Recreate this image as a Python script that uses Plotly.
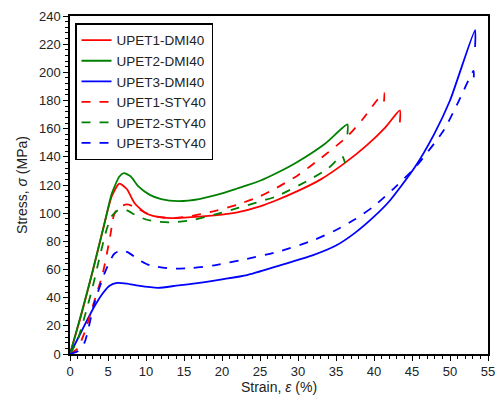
import plotly.graph_objects as go

# UPET1-DMI40 (red solid)
u1d_x = [0, 1.5, 3.0, 4.5, 5.5, 6.5, 7.5, 8.5, 10, 12, 14, 17, 20, 22, 25, 27, 30, 33, 36, 39, 41.5, 43.4, 43.4]
u1d_y = [0, 28, 59, 92, 112, 121, 117, 107, 100, 97, 96.5, 97.5, 99, 100.5, 104.8, 108.8, 115.8, 124, 135, 148, 161, 173, 164.5]
# UPET2-DMI40 (green solid)
u2d_x = [0, 1.5, 3.0, 4.5, 5.5, 6.5, 7.1, 8, 9, 10.5, 12, 14.2, 17, 20, 22, 25, 27.2, 29.8, 33.6, 36.5, 36.5]
u2d_y = [0, 29, 59.4, 92, 114, 126, 128.4, 126, 119, 113, 110, 108.6, 110, 114, 117.5, 123, 128.5, 136, 149.5, 163, 156]
# UPET3-DMI40 (blue solid)
u3d_x = [0, 1.5, 3.2, 4.3, 5.2, 6.2, 7.5, 9, 11.6, 14, 17, 20, 23.3, 27.2, 31.9, 35, 37.5, 40, 42.1, 45.3, 47.9, 50, 53.3, 53.3]
u3d_y = [0, 16, 33.7, 43, 48.5, 50.5, 50, 48.5, 47, 48.5, 50.5, 53, 56, 62.2, 70, 77, 86, 97.5, 109, 132, 156, 180, 230, 218]
# UPET1-STY40 (red dashed)
u1s_x = [0, 1.0, 1.9, 3.0, 4.3, 5.3, 5.8, 6.5, 7.5, 8.5, 10, 11.5, 13.4, 16, 19, 22, 25, 27.2, 30, 33, 36.5, 38.4, 41.3, 41.3]
u1s_y = [0, 4, 15, 34, 57, 84, 99, 104.5, 106.2, 104.5, 100, 97.5, 96.4, 98, 101.5, 106, 112, 118, 127, 139, 154.5, 166, 185.5, 178]
# UPET2-STY40 (green dashed)
u2s_x = [0, 1.0, 2.0, 3.0, 3.9, 4.8, 5.5, 6.5, 7.5, 8.5, 10, 11.6, 13.5, 16, 19, 22, 24.5, 27.2, 31.5, 34, 35.8, 36.2]
u2s_y = [0, 10, 28, 48, 68.8, 88, 98, 102.7, 102, 99, 95.5, 94, 93.5, 95, 99, 103.5, 107.5, 112, 123.7, 132, 140.5, 135.5]
# UPET3-STY40 (blue dashed)
u3s_x = [0, 1.0, 1.9, 3.2, 4.7, 5.8, 6.7, 7.7, 9, 10.5, 13.4, 16, 19, 23.3, 27.2, 31.9, 35, 37.5, 40, 42.7, 45.5, 49.2, 51.1, 53.1, 53.1]
u3s_y = [0, 2, 8, 36, 59.4, 71, 73.5, 72, 67, 63, 60.6, 61, 63, 67.6, 72.3, 80.5, 88, 95.6, 105, 118, 133, 159, 179, 201, 193]

names = ["UPET1-DMI40", "UPET2-DMI40", "UPET3-DMI40", "UPET1-STY40", "UPET2-STY40", "UPET3-STY40"]
xs = [u1d_x, u2d_x, u3d_x, u1s_x, u2s_x, u3s_x]
ys = [u1d_y, u2d_y, u3d_y, u1s_y, u2s_y, u3s_y]
colors = ["#ff0000", "#008000", "#0000ff", "#ff0000", "#008000", "#0000ff"]
dashes = ["solid", "solid", "solid", "dash", "dash", "dash"]

fig = go.Figure()
for n, x, y, c, d in zip(names, xs, ys, colors, dashes):
    fig.add_trace(go.Scatter(x=x, y=y, mode="lines", name=n,
                             line=dict(color=c, width=1.8, dash=d, shape="spline", smoothing=0.6)))

axis_common = dict(showline=True, linecolor="black", linewidth=1.5, mirror=True,
                   ticks="outside", ticklen=5, tickwidth=1.2, tickcolor="black",
                   showgrid=False, zeroline=False,
                   tickfont=dict(family="Liberation Sans, Arial", size=13, color="#222"))

fig.update_layout(
    width=504, height=402,
    margin=dict(l=70, r=9, t=16, b=44),
    plot_bgcolor="white", paper_bgcolor="white",
    font=dict(family="Liberation Sans, Arial", size=13, color="#222"),
    xaxis=dict(range=[0, 55], dtick=5, tick0=0,
               minor=dict(dtick=1, ticks="outside", ticklen=3, tickcolor="black"),
               title=dict(text="Strain, <i>ε</i> (%)", standoff=4, font=dict(size=14)),
               **axis_common),
    yaxis=dict(range=[0, 240], dtick=20, tick0=0,
               minor=dict(dtick=4, ticks="outside", ticklen=3, tickcolor="black"),
               title=dict(text="Stress, <i>σ</i> (MPa)", standoff=8, font=dict(size=14)),
               **axis_common),
    legend=dict(x=0.012, y=0.978, xanchor="left", yanchor="top",
                bordercolor="black", borderwidth=1.5, bgcolor="white",
                font=dict(size=13.5), tracegroupgap=0, itemwidth=30),
    showlegend=True,
)

fig.write_html("out.html")
